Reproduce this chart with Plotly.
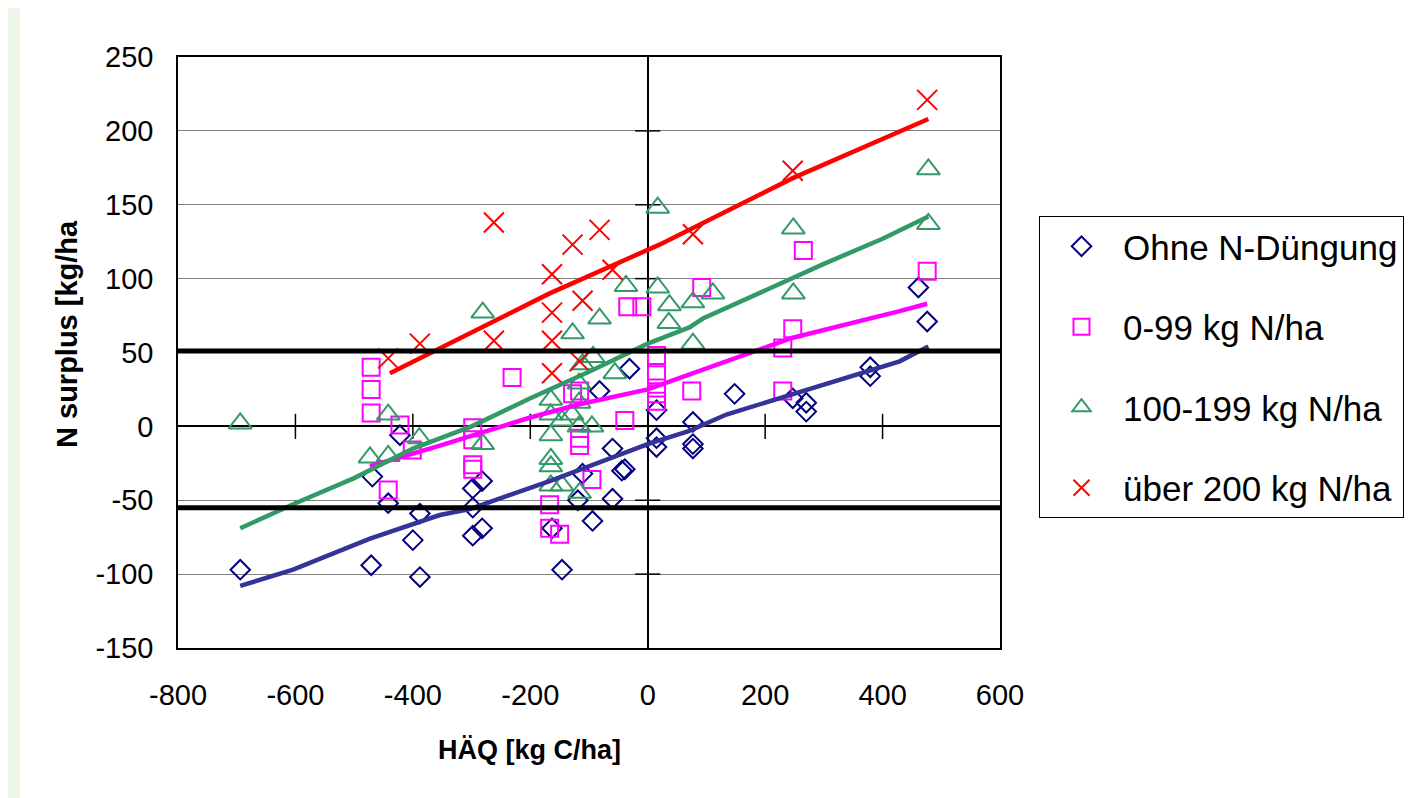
import plotly.graph_objects as go

FONT = "Liberation Sans, Arial, sans-serif"

# ---- data ----
ohne_x = [-694, -471, -469, -442, -422, -400, -388, -388, -298, -282, -298, -282, -298,
          -163, -146, -111, -119, -94, -60, -44, -39, -60, -82, -31, 15, 15, 15,
          77, 77, 77, 148, 247, 270, 270, 379, 379, 461, 476]
ohne_y = [-97, -94, -34, -52, -6, -77, -59, -102, -42, -37, -55, -69, -74,
          -69, -97, -32, -50, -64, -15, -30, -29, -49, 24, 39, 11, -8, -14,
          3, -12, -15, 22, 19, 16, 10, 40, 34, 94, 71]

n099_x = [-471, -471, -471, -422, -401, -442, -298, -298, -298, -298, -231, -128, -116,
          -116, -116, -95, -167, -167, -150, -39, -34, -10, 15, 15, 15, 15, 15,
          75, 92, 230, 230, 247, 265, 476]
n099_y = [40, 25, 9, 1, -16, -43, -1, -9, -26, -29, 33, 22, 24,
          -8, -13, -36, -53, -69, -73, 4, 81, 81, 48, 35, 26, 22, 17,
          24, 94, 53, 24, 66, 119, 105]

n100_x = [-694, -442, -473, -442, -389, -281, -281, -165, -165, -165, -165, -165, -165,
          -146, -146, -128, -129, -117, -117, -117, -116, -111, -95, -93, -82, -56, -37,
          17, 17, 37, 36, 77, 111, 77, 248, 248, 478, 478]
n100_y = [2, 8, -21, -20, -8, 77, -12, 18, 8, -6, -22, -27, -40,
          -40, 4, 63, 8, 29, 16, 0, -45, 42, 0, 47, 73, 36, 95,
          148, 94, 82, 70, 84, 90, 56, 134, 90, 174, 137]

n200_x = [-442, -388, -262, -262, -163, -163, -163, -163, -128, -111, -116, -82, -60, 77, 247, 476]
n200_y = [46, 56, 138, 58, 103, 77, 58, 36, 123, 85, 44, 133, 106, 130, 173, 221]

# trend lines
ohne_fit_x = [-694, -604, -473, -354, -303, -167, 0, 71, 134, 224, 247, 429, 478]
ohne_fit_y = [-108, -97, -76, -60, -56, -37, -12, -3, 8, 19, 22, 44, 54]
n099_fit_x = [-473, -354, -200, -116, 0, 100, 247, 429, 476]
n099_fit_y = [-27, -13, 6, 15, 25, 39, 60, 78, 83]
n100_fit_x = [-694, -600, -500, -400, -300, -200, -100, 0, 71, 94, 200, 300, 400, 478]
n100_fit_y = [-69, -52, -35, -15, 0, 19, 37, 56, 67, 73, 92, 110, 127, 142]
n200_fit_x = [-439, -354, -167, 20, 247, 478]
n200_fit_y = [36, 53, 90, 123, 168, 208]

# threshold lines
thresholds = [51, -55]
x_range = [-800, 600]
y_range = [-150, 250]
x_ticks = [-800, -600, -400, -200, 0, 200, 400, 600]
y_ticks = [-150, -100, -50, 0, 50, 100, 150, 200, 250]
x_ticktext = [str(v) for v in x_ticks]
y_ticktext = [str(v) for v in y_ticks]

series_names = ["Ohne N-Düngung", "0-99 kg N/ha", "100-199 kg N/ha", "über 200 kg N/ha"]

# page body has an 8px margin -> compensate
W, H = 1405, 790
L, T = 170, 49
PW, PH = 822, 591

fig = go.Figure()

# ticks on the zero-crossing axes
inner_x = [t for t in x_ticks if t not in (0, x_ticks[0], x_ticks[-1])]
inner_y = y_ticks[1:-1]
fig.add_trace(go.Scatter(
    x=inner_x, y=[0] * len(inner_x), mode="markers",
    marker=dict(symbol="line-ns", size=18, line=dict(color="black", width=1.5)),
    showlegend=False, hoverinfo="skip"))
fig.add_trace(go.Scatter(
    x=[0] * len(inner_y), y=inner_y, mode="markers",
    marker=dict(symbol="line-ew", size=18, line=dict(color="black", width=1.5)),
    showlegend=False, hoverinfo="skip"))

# scatter series
fig.add_trace(go.Scatter(
    x=ohne_x, y=ohne_y, mode="markers", name=series_names[0], legendgroup="a",
    marker=dict(symbol="diamond-open", size=15, color="#000080", line=dict(width=2))))
fig.add_trace(go.Scatter(
    x=n099_x, y=n099_y, mode="markers", name=series_names[1], legendgroup="b",
    marker=dict(symbol="square-open", size=17, color="#FF00FF", line=dict(width=2))))
fig.add_trace(go.Scatter(
    x=n100_x, y=n100_y, mode="markers", name=series_names[2], legendgroup="c",
    marker=dict(symbol="triangle-up-open", size=20, color="#339966", line=dict(width=2))))
fig.add_trace(go.Scatter(
    x=n200_x, y=n200_y, mode="markers", name=series_names[3], legendgroup="d",
    marker=dict(symbol="x-thin-open", size=20, color="#FF0000",
                line=dict(width=2, color="#FF0000"))))

# trend lines
for fx, fy, col, g in [(ohne_fit_x, ohne_fit_y, "#333399", "a"),
                       (n099_fit_x, n099_fit_y, "#FF00FF", "b"),
                       (n100_fit_x, n100_fit_y, "#339966", "c"),
                       (n200_fit_x, n200_fit_y, "#FF0000", "d")]:
    fig.add_trace(go.Scatter(x=fx, y=fy, mode="lines", line=dict(color=col, width=4.5),
                             showlegend=False, legendgroup=g, hoverinfo="skip"))

# thick threshold lines
for t in thresholds:
    fig.add_trace(go.Scatter(x=x_range, y=[t, t], mode="lines",
                             line=dict(color="black", width=5),
                             showlegend=False, hoverinfo="skip"))

axis_common = dict(showline=True, mirror=True, linecolor="black", linewidth=1.5,
                   ticks="", tickfont=dict(family=FONT, size=29, color="black"))

fig.update_layout(
    width=W, height=H,
    margin=dict(l=L, r=W - L - PW, t=T, b=H - T - PH, autoexpand=False),
    paper_bgcolor="white", plot_bgcolor="white",
    font=dict(family=FONT, color="black"),
    xaxis=dict(range=x_range, tickvals=x_ticks, ticktext=x_ticktext, showgrid=False,
               zeroline=True, zerolinecolor="black", zerolinewidth=1.5,
               ticklabelstandoff=20, **axis_common),
    yaxis=dict(range=y_range, tickvals=y_ticks, ticktext=y_ticktext, showgrid=True,
               gridcolor="#808080", gridwidth=1, zeroline=True, zerolinecolor="black",
               zerolinewidth=1.5, ticklabelstandoff=17, **axis_common),
    legend=dict(x=(1031 - L) / PW, xanchor="left", y=1 - (208 - T) / PH, yanchor="top",
                bgcolor="white", bordercolor="black", borderwidth=1,
                font=dict(family=FONT, size=35, color="black"),
                traceorder="grouped", tracegroupgap=32, itemwidth=73),
    showlegend=True,
    annotations=[
        dict(text="<b>HÄQ [kg C/ha]</b>", xref="paper", yref="paper",
             x=(521 - L) / PW, y=-(742 - (T + PH)) / PH, xanchor="center", yanchor="middle",
             showarrow=False, font=dict(family=FONT, size=27, color="black")),
        dict(text="<b>N surplus [kg/ha</b>", xref="paper", yref="paper", textangle=-90,
             x=(59 - L) / PW, y=1 - (326 - T) / PH, xanchor="center", yanchor="middle",
             showarrow=False, font=dict(family=FONT, size=29, color="black")),
    ],
    shapes=[dict(type="rect", xref="paper", yref="paper", layer="below",
                 x0=-L / PW, x1=(12 - L) / PW, y0=-(H - T - PH) / PH, y1=1 + T / PH,
                 fillcolor="#eef6ea", line=dict(width=0))],
)

fig.write_html("out.html")
